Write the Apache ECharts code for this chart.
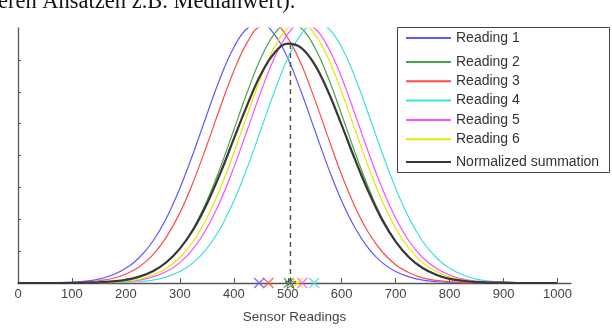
<!DOCTYPE html>
<html>
<head>
<meta charset="utf-8">
<script src="https://cdn.jsdelivr.net/npm/echarts@6/dist/echarts.min.js"></script>
<style>
  html, body { margin: 0; padding: 0; background: #fff; }
  #chart { width: 612px; height: 329px; }
</style>
</head>
<body>
<div id="chart"></div>
<script>
// Sample positions along the sensor-reading axis
const sensorX = [0, 25, 50, 75, 100, 125, 150, 175, 200, 225, 250, 275, 300, 325, 350, 375, 400,
  425, 450, 475, 500, 525, 550, 575, 600, 625, 650, 675, 700, 725, 750, 775, 800, 825, 850, 875,
  900, 925, 950, 975, 1000];

// Distribution of each individual reading at those positions
const reading1 = [0, 0, 0, 0.01, 0.03, 0.06, 0.12, 0.25, 0.46, 0.80, 1.31, 2.03, 2.97, 4.08, 5.28, 6.44,
  7.39, 7.99, 8.14, 7.81, 7.05, 5.99, 4.80, 3.62, 2.57, 1.72, 1.08, 0.64, 0.36, 0.19, 0.09, 0.04, 0.02,
  0.01, 0, 0, 0, 0, 0, 0, 0];
const reading2 = [0, 0, 0, 0, 0, 0.01, 0.02, 0.04, 0.09, 0.19, 0.36, 0.64, 1.08, 1.72, 2.57, 3.62, 4.80,
  5.99, 7.05, 7.81, 8.14, 7.99, 7.39, 6.44, 5.28, 4.08, 2.97, 2.03, 1.31, 0.80, 0.46, 0.25, 0.12, 0.06,
  0.03, 0.01, 0, 0, 0, 0, 0];
const reading3 = [0, 0, 0, 0.01, 0.01, 0.03, 0.07, 0.14, 0.28, 0.51, 0.88, 1.44, 2.20, 3.18, 4.32, 5.52,
  6.65, 7.55, 8.06, 8.11, 7.68, 6.86, 5.76, 4.56, 3.39, 2.38, 1.57, 0.98, 0.57, 0.32, 0.16, 0.08, 0.04,
  0.02, 0.01, 0, 0, 0, 0, 0, 0];
const reading4 = [0, 0, 0, 0, 0, 0, 0, 0.01, 0.02, 0.04, 0.09, 0.19, 0.36, 0.64, 1.08, 1.72, 2.57, 3.62,
  4.80, 5.99, 7.05, 7.81, 8.14, 7.99, 7.39, 6.44, 5.28, 4.08, 2.97, 2.03, 1.31, 0.80, 0.46, 0.25, 0.12,
  0.06, 0.03, 0.01, 0, 0, 0];
const reading5 = [0, 0, 0, 0, 0, 0, 0.01, 0.02, 0.04, 0.09, 0.19, 0.36, 0.64, 1.08, 1.72, 2.57, 3.62,
  4.80, 5.99, 7.05, 7.81, 8.14, 7.99, 7.39, 6.44, 5.28, 4.08, 2.97, 2.03, 1.31, 0.80, 0.46, 0.25, 0.12,
  0.06, 0.03, 0.01, 0, 0, 0, 0];
const reading6 = [0, 0, 0, 0, 0, 0, 0.01, 0.03, 0.06, 0.12, 0.25, 0.46, 0.80, 1.31, 2.03, 2.97, 4.08,
  5.28, 6.44, 7.39, 7.99, 8.14, 7.81, 7.05, 5.99, 4.80, 3.62, 2.57, 1.72, 1.08, 0.64, 0.36, 0.19, 0.09,
  0.04, 0.02, 0.01, 0, 0, 0, 0];
const summation = [0, 0, 0, 0, 0, 0.01, 0.02, 0.05, 0.10, 0.20, 0.37, 0.65, 1.08, 1.68, 2.48, 3.44, 4.52,
  5.59, 6.54, 7.21, 7.51, 7.38, 6.85, 6.00, 4.95, 3.86, 2.85, 1.98, 1.30, 0.80, 0.47, 0.26, 0.13, 0.07,
  0.03, 0.01, 0.01, 0, 0, 0, 0];

// Raw reading values marked on the axis, and the fused estimate
const readingMarks = [447, 502, 464, 549, 527, 518];
const summationCenter = 505;
const summationPeak = 7.52;

const seriesNames = ['Reading 1', 'Reading 2', 'Reading 3', 'Reading 4', 'Reading 5', 'Reading 6',
  'Normalized summation'];
const seriesColors = ['#5a5aff', '#47a447', '#ff4a4a', '#3ee0e0', '#ff4cff', '#e6e600', '#383838'];
const seriesValues = [reading1, reading2, reading3, reading4, reading5, reading6, summation];

// Axis tick positions
const xTicks = [0, 100, 200, 300, 400, 500, 600, 700, 800, 900, 1000];
const yTicks = [1, 2, 3, 4, 5, 6, 7];

const FONT = '"Liberation Sans", Arial, sans-serif';

const lineSeries = seriesValues.map((vals, i) => ({
  name: seriesNames[i],
  type: 'line',
  data: sensorX.map((x, k) => [x, vals[k]]),
  smooth: 0.4,
  symbol: 'none',
  clip: true,
  lineStyle: { color: seriesColors[i], width: i === 6 ? 2.2 : 1.2 },
  itemStyle: { color: seriesColors[i] },
  z: i === 6 ? 4 : 3
}));

const crossPath = 'path://M0,0L10,10M10,0L0,10';
const markSeries = readingMarks.map((x, i) => ({
  name: seriesNames[i] + ' value',
  type: 'scatter',
  data: [[x, 0]],
  symbol: crossPath,
  symbolSize: 10,
  itemStyle: { color: 'rgba(0,0,0,0)', borderColor: seriesColors[i], borderWidth: 1.5 },
  z: 6,
  silent: true
}));

const starPath = 'path://M50,0L61,35L98,35L68,57L79,91L50,70L21,91L32,57L2,35L39,35Z';

const legendText = { fontSize: 14, color: '#333', fontFamily: FONT };
const legendCommon = {
  orient: 'vertical',
  left: 405,
  padding: 0,
  itemWidth: 45,
  itemHeight: 12,
  selectedMode: false,
  itemStyle: { opacity: 0 },
  textStyle: legendText
};

const option = {
  animation: false,
  backgroundColor: '#ffffff',
  textStyle: { fontFamily: FONT },
  grid: { left: 18, right: 41, top: 28, bottom: 45, containLabel: false },
  xAxis: {
    type: 'value',
    min: 0,
    max: 1025,
    interval: 100,
    name: 'Sensor Readings',
    nameLocation: 'middle',
    nameGap: 27,
    nameTextStyle: { fontSize: 13.5, color: '#444', fontFamily: FONT },
    axisLine: { lineStyle: { color: '#555', width: 1.3 } },
    axisTick: { inside: true, length: 5, customValues: xTicks, lineStyle: { color: '#555' } },
    axisLabel: {
      customValues: xTicks,
      formatter: v => String(v),
      fontSize: 13,
      color: '#444',
      margin: 5,
      fontFamily: FONT
    },
    splitLine: { show: false }
  },
  yAxis: {
    type: 'value',
    min: 0,
    max: 8,
    interval: 1,
    axisLine: { show: true, lineStyle: { color: '#555', width: 1.3 } },
    axisTick: { show: true, inside: true, length: 3, customValues: yTicks, lineStyle: { color: '#555' } },
    axisLabel: { show: false },
    splitLine: { show: false }
  },
  legend: [
    Object.assign({}, legendCommon, { data: [seriesNames[0]], top: 31 }),
    Object.assign({}, legendCommon, { data: seriesNames.slice(1, 6), top: 55, itemGap: 5.3 }),
    Object.assign({}, legendCommon, { data: [seriesNames[6]], top: 155 })
  ],
  graphic: [
    {
      type: 'rect',
      shape: { x: 397.5, y: 27.5, width: 212, height: 145 },
      style: { fill: 'rgba(0,0,0,0)', stroke: '#444', lineWidth: 1 },
      z: 1
    },
    {
      type: 'text',
      left: -2,
      top: -9,
      style: {
        text: 'eren Ansätzen z.B. Medianwert).',
        font: '22.5px "Liberation Serif", "Times New Roman", serif',
        fill: '#111'
      }
    }
  ],
  series: [
    ...lineSeries,
    {
      name: 'Fused estimate',
      type: 'line',
      data: [[summationCenter, 0], [summationCenter, summationPeak]],
      symbol: 'none',
      lineStyle: { color: '#555', width: 1.5, type: [5, 4] },
      z: 5,
      silent: true
    },
    ...markSeries,
    {
      name: 'Fused estimate mark',
      type: 'scatter',
      data: [[summationCenter, 0]],
      symbol: starPath,
      symbolSize: 11,
      itemStyle: { color: 'rgba(0,0,0,0)', borderColor: '#444', borderWidth: 1 },
      z: 7,
      silent: true
    }
  ]
};

const chart = echarts.init(document.getElementById('chart'), null, { renderer: 'canvas' });
chart.setOption(option);
</script>
</body>
</html>
